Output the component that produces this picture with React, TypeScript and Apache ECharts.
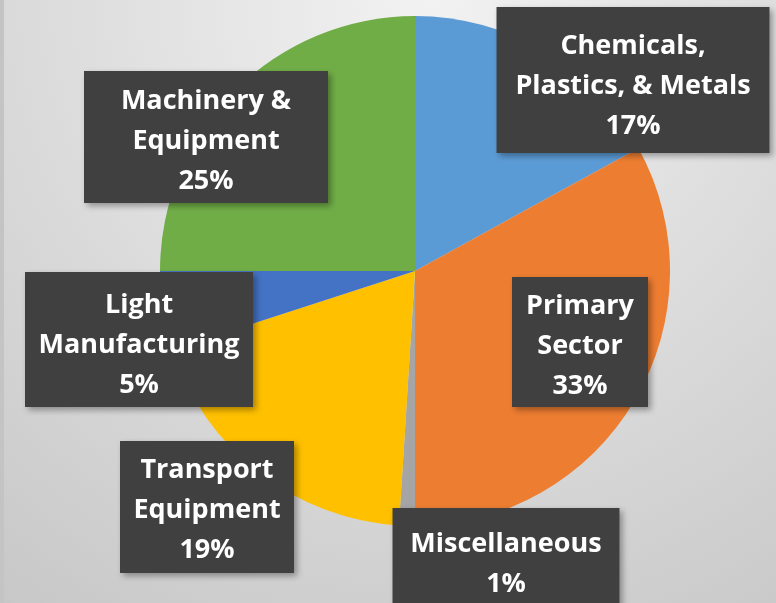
import React, { useEffect, useRef } from "react";
import * as echarts from "echarts";

const categories = [
  "Chemicals,\nPlastics, & Metals",
  "Primary\nSector",
  "Miscellaneous",
  "Transport\nEquipment",
  "Light\nManufacturing",
  "Machinery &\nEquipment",
];
const shares = [17, 33, 1, 19, 5, 25];
const colors = ["#5b9bd5", "#ed7d31", "#a5a5a5", "#ffc000", "#4472c4", "#70ad47"];

// label box layout: centre x, top, width, padding top, padding bottom
const labelBoxes = [
  { cx: 633, top: 7, w: 273, pt: 16, pb: 10 },
  { cx: 580, top: 277, w: 136, pt: 6, pb: 4 },
  { cx: 506, top: 508, w: 227, pt: 13, pb: 17 },
  { cx: 207, top: 441, w: 174, pt: 6, pb: 6 },
  { cx: 139, top: 272, w: 228, pt: 10, pb: 5 },
  { cx: 206, top: 71, w: 244, pt: 7, pb: 5 },
];

export default function App() {
  const ref = useRef<HTMLDivElement>(null);
  useEffect(() => {
    if (!ref.current) return;
    const chart = echarts.init(ref.current, undefined, { renderer: "svg" });
    chart.setOption({
      animation: false,
      backgroundColor: {
        type: "radial",
        x: 430,
        y: 0,
        r: 800,
        global: true,
        colorStops: [
          { offset: 0, color: "#f2f2f2" },
          { offset: 1, color: "#c4c4c4" },
        ],
      },
      graphic: [
        {
          type: "rect",
          shape: { x: 0, y: 0, width: 4, height: 603 },
          style: { fill: "#c4c4c4" },
          z: 100,
        },
      ],
      series: [
        {
          type: "pie",
          center: [415, 271],
          radius: 255,
          startAngle: 90,
          clockwise: true,
          avoidLabelOverlap: false,
          labelLine: { show: false },
          emphasis: { disabled: true },
          data: categories.map((name, i) => ({
            name,
            value: shares[i],
            itemStyle: { color: colors[i] },
            label: {
              width: labelBoxes[i].w,
              padding: [labelBoxes[i].pt, 0, labelBoxes[i].pb, 0],
            },
          })),
          label: {
            show: true,
            position: "inside",
            formatter: (p: any) => `${p.name}\n${p.value}%`,
            color: "#ffffff",
            fontFamily: "Open Sans",
            fontWeight: "bold",
            fontSize: 27,
            lineHeight: 40,
            align: "center",
            backgroundColor: "#404040",
            shadowColor: "rgba(0,0,0,0.35)",
            shadowBlur: 6,
            shadowOffsetX: 3,
            shadowOffsetY: 3,
          },
          labelLayout: (params: any) => {
            const b = labelBoxes[params.dataIndex];
            return {
              x: b.cx,
              y: b.top,
              align: "center",
              verticalAlign: "top",
              hideOverlap: false,
            };
          },
        },
      ],
    });
    return () => chart.dispose();
  }, []);
  return (
    <div
      ref={ref}
      style={{ position: "fixed", left: 0, top: 0, width: 776, height: 603 }}
    />
  );
}
